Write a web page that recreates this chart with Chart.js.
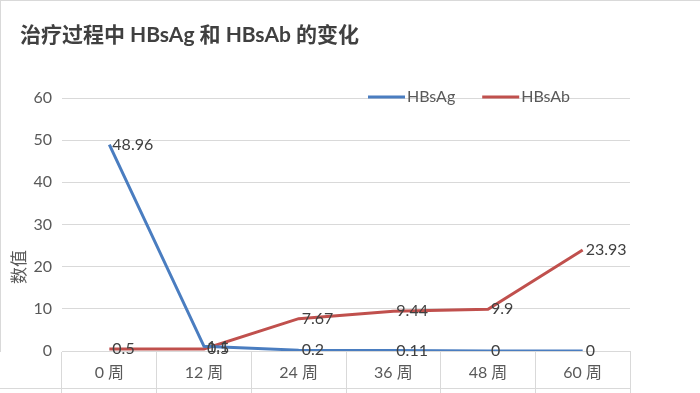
<!DOCTYPE html>
<html><head><meta charset="utf-8">
<script src="https://cdn.jsdelivr.net/npm/chart.js@4/dist/chart.umd.min.js"></script>
<style>html,body{margin:0;padding:0;background:#fff;overflow:hidden}#wrap{width:700px;height:393px;position:relative}</style>
</head><body><div id="wrap"><canvas id="c" width="700" height="393"></canvas></div>
<script>
const categories = ['0 周', '12 周', '24 周', '36 周', '48 周', '60 周'];
const hbsagValues = [48.96, 1.1, 0.2, 0.11, 0, 0];
const hbsabValues = [0.5, 0.5, 7.67, 9.44, 9.9, 23.93];
const seriesNames = ['HBsAg', 'HBsAb'];
const yTickValues = [0, 10, 20, 30, 40, 50, 60];
const chartTitle = '治疗过程中 HBsAg 和 HBsAb 的变化';
const yAxisTitle = '数值';

const FONT = "Lato, 'Noto Sans CJK SC', sans-serif";
const TEXT = '#404040';
const TICK = '#595959';
const GRID = '#d9d9d9';

const decor = {
  id: 'decor',
  afterDatasetsDraw(chart) {
    const ctx = chart.ctx;
    ctx.save();
    ctx.font = '16px ' + FONT;
    ctx.fillStyle = TEXT;
    ctx.textAlign = 'left';
    ctx.textBaseline = 'middle';
    chart.data.datasets.forEach((ds, i) => {
      const meta = chart.getDatasetMeta(i);
      meta.data.forEach((pt, j) => {
        ctx.fillText(String(ds.data[j]), pt.x + 3, pt.y);
      });
    });
    ctx.restore();
  },
  afterDraw(chart) {
    const ctx = chart.ctx;
    const area = chart.chartArea;
    ctx.save();
    ctx.strokeStyle = GRID;
    ctx.lineWidth = 1;
    ctx.beginPath();
    ctx.moveTo(0, 0.5); ctx.lineTo(chart.width, 0.5);
    ctx.moveTo(0.5, 0); ctx.lineTo(0.5, area.bottom + 1);
    ctx.moveTo(0, 388.5); ctx.lineTo(area.right, 388.5);
    ctx.stroke();
    ctx.fillStyle = TICK;
    ctx.font = '17px ' + FONT;
    ctx.textAlign = 'center';
    ctx.textBaseline = 'middle';
    ctx.translate(20, 267);
    ctx.rotate(-Math.PI / 2);
    ctx.fillText(yAxisTitle, 0, 0);
    ctx.restore();
    ctx.save();
    ctx.font = '16px ' + FONT;
    ctx.textBaseline = 'middle';
    ctx.textAlign = 'left';
    let x = 368;
    const y = 97;
    chart.data.datasets.forEach((ds) => {
      ctx.strokeStyle = ds.borderColor;
      ctx.lineWidth = 3;
      ctx.beginPath();
      ctx.moveTo(x, y); ctx.lineTo(x + 37, y);
      ctx.stroke();
      ctx.fillStyle = TICK;
      ctx.fillText(ds.label, x + 39, y);
      x += 39 + ctx.measureText(ds.label).width + 27;
    });
    ctx.restore();
  }
};

new Chart(document.getElementById('c'), {
  type: 'line',
  data: {
    labels: categories,
    datasets: [
      { label: seriesNames[0], data: hbsagValues, borderColor: '#4a7dc0', backgroundColor: '#4a7dc0',
        borderWidth: 3, pointRadius: 0, tension: 0, clip: {left: 5, top: 5, right: 5, bottom: 0} },
      { label: seriesNames[1], data: hbsabValues, borderColor: '#c0504d', backgroundColor: '#c0504d',
        borderWidth: 3, pointRadius: 0, tension: 0 }
    ]
  },
  options: {
    responsive: false,
    animation: false,
    devicePixelRatio: 1,
    layout: { padding: { left: 20, right: 70, top: 0, bottom: 0 } },
    plugins: {
      legend: { display: false },
      tooltip: { enabled: false },
      title: {
        display: true, text: chartTitle, align: 'start', color: TEXT,
        font: { family: FONT, size: 21, weight: 'bold' },
        padding: { top: 23, bottom: 49.8 }
      }
    },
    scales: {
      x: {
        type: 'category',
        offset: true,
        grid: { offset: true, drawOnChartArea: false, drawTicks: true, tickLength: 42, color: GRID },
        border: { display: true, color: GRID },
        ticks: { color: TICK, font: { family: FONT, size: 16 }, padding: -30, maxRotation: 0, autoSkip: false },
        afterFit(s) { s.height = 42; }
      },
      y: {
        min: 0, max: 60,
        afterBuildTicks(s) { s.ticks = yTickValues.map(v => ({ value: v })); },
        grid: { color: GRID, drawTicks: false },
        border: { display: false },
        ticks: { color: TICK, font: { family: FONT, size: 16 }, padding: 10 },
        afterFit(s) { s.width = 42; }
      }
    }
  },
  plugins: [decor]
});
</script>
</body></html>
